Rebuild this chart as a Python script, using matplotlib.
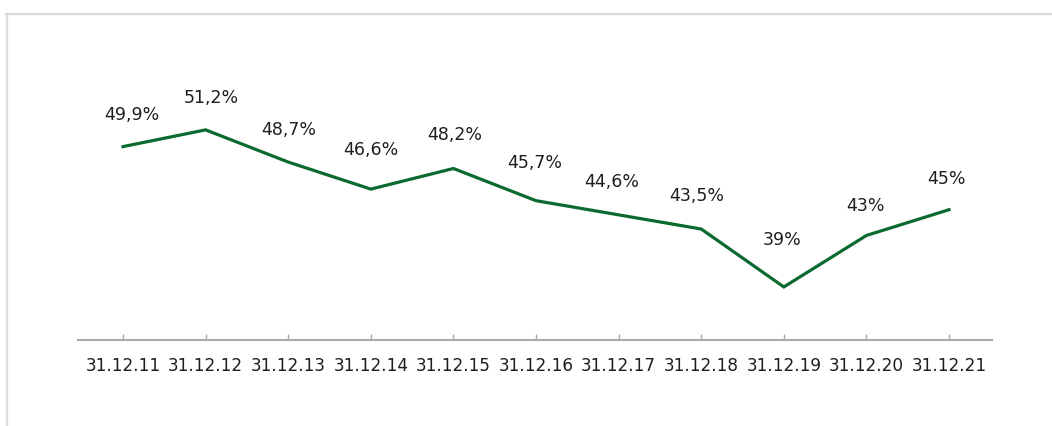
import matplotlib
matplotlib.use("Agg")
from matplotlib import pyplot as plt
from matplotlib.lines import Line2D

# ratio at each year end
dates = ["31.12.11", "31.12.12", "31.12.13", "31.12.14", "31.12.15", "31.12.16",
         "31.12.17", "31.12.18", "31.12.19", "31.12.20", "31.12.21"]
ratio = [49.9, 51.2, 48.7, 46.6, 48.2, 45.7, 44.6, 43.5, 39.0, 43.0, 45.0]
value_labels = ["49,9%", "51,2%", "48,7%", "46,6%", "48,2%", "45,7%",
                "44,6%", "43,5%", "39%", "43%", "45%"]

# label nudges in points (dx, dy)
nudges = [(6, 23), (4, 23), (0, 23), (0, 28), (1, 24), (-1, 27),
          (-5, 24), (-3, 24), (-1, 34), (-1, 21), (-2, 22)]

green = "#0b6a2f"
text_col = "#1e1e1e"

plt.rcParams["font.family"] = ["DejaVu Sans"]

fig = plt.figure(figsize=(10.52, 4.26), dpi=100)
W, H = 1052, 426
ax = fig.add_axes([78 / W, (H - 340) / H, (992 - 78) / W, (340 - 14) / H])

x = list(range(len(dates)))
ax.plot(x, ratio, color=green, lw=2.3, solid_joinstyle="miter")

for xi, yi, lab, (dx, dy) in zip(x, ratio, value_labels, nudges):
    ax.annotate(lab, (xi, yi), xytext=(dx, dy), textcoords="offset points",
                ha="center", va="center", fontsize=12.5, color=text_col)

ax.set_xlim(-0.545, 10.52)
ax.set_ylim(34.88, 60.2)
ax.set_xticks(x)
ax.set_xticklabels(dates, fontsize=12.2, color=text_col)
ax.set_yticks([])
for side in ["top", "left", "right"]:
    ax.spines[side].set_visible(False)
ax.spines["bottom"].set_color("#a9a9a9")
ax.spines["bottom"].set_linewidth(1.5)
ax.tick_params(axis="x", direction="in", length=4, width=1, color="#a9a9a9", pad=12)
ax.patch.set_alpha(0)

# light frame along the top and left edge
frame = "#dedadc"
fig.add_artist(Line2D([6 / W, 1.0], [(H - 14) / H, (H - 14) / H], color=frame, lw=1.6,
                      transform=fig.transFigure))
fig.add_artist(Line2D([6.5 / W, 6.5 / W], [0, (H - 14) / H], color=frame, lw=1.6,
                      transform=fig.transFigure))

fig.savefig("out.png", dpi=100)
